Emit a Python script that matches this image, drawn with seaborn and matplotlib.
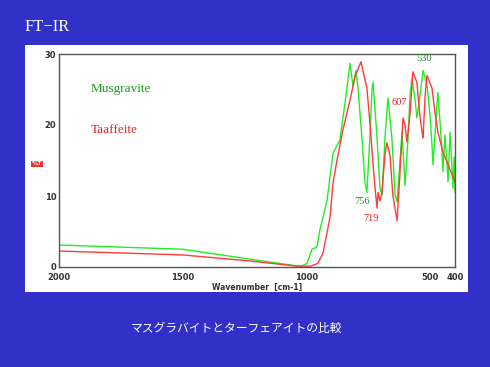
import numpy as np
import pandas as pd
import matplotlib
matplotlib.use("Agg")
import matplotlib.pyplot as plt
from matplotlib.patches import Rectangle
import seaborn as sns

# Musgravite spectrum (wavenumber cm-1, %T)
musg_wn = [2000, 1500, 1228, 1067, 1026, 998, 978, 958, 946, 917, 893, 865, 845,
           824, 812, 800, 792, 776, 764, 756, 744, 735, 731, 715, 703, 695, 683,
           671, 655, 642, 634, 622, 614, 602, 590, 582, 574, 562, 554, 542, 529,
           513, 501, 493, 489, 473, 469, 453, 449, 441, 432, 428, 420, 408, 404, 400]
musg_t = [3.1, 2.5, 1.1, 0.3, 0.05, 0.5, 2.5, 2.8, 5.2, 9.4, 16.0, 17.9, 23.0,
          28.7, 25.4, 27.7, 25.2, 18.2, 12.0, 10.5, 18.2, 25.2, 26.0, 18.2, 11.1, 10.1, 18.2,
          23.8, 18.2, 10.1, 9.2, 15.0, 19.0, 11.5, 18.0, 24.0, 26.5, 23.8, 21.0, 24.0, 27.7,
          25.6, 21.4, 17.2, 14.4, 22.8, 24.6, 16.8, 13.4, 18.6, 14.4, 12.0, 19.0, 11.1, 15.5, 10.5]

# Taaffeite spectrum
taaf_wn = [2000, 1500, 1228, 1047, 986, 954, 933, 905, 893, 877, 853, 824, 804,
           780, 756, 744, 731, 723, 715, 711, 703, 695, 683, 675, 663, 651, 634,
           622, 614, 610, 602, 594, 582, 570, 554, 542, 533, 529, 521, 513, 493,
           481, 469, 449, 432, 420, 400]
taaf_t = [2.25, 1.7, 0.85, 0.15, 0.1, 0.5, 2.0, 7.0, 11.8, 15.0, 19.3, 23.5, 26.8,
          28.9, 25.2, 20.4, 14.4, 11.1, 8.3, 10.5, 9.3, 10.5, 15.8, 17.5, 15.8, 10.1, 6.5,
          13.4, 18.6, 21.0, 20.0, 17.6, 21.5, 27.5, 26.0, 21.4, 19.0, 18.2, 24.0, 27.0, 25.2,
          21.8, 19.0, 16.2, 14.8, 13.7, 12.0]

x_major = [2000, 1500, 1000, 500, 400]
x_minor = [1750, 1250, 750]
y_major = [0, 10, 20, 30]
y_minor = [5, 15, 25]

peak_labels = [("530", 525, 29.4, "#1f8f1f"), ("607", 626, 23.1, "#e82020"),
               ("756", 776, 9.2, "#1f8f1f"), ("719", 740, 6.9, "#e82020")]

df_m = pd.DataFrame({"wn": musg_wn, "T": musg_t})
df_t = pd.DataFrame({"wn": taaf_wn, "T": taaf_t})

sns.set_style("white")
plt.rcParams['font.family'] = ['DejaVu Sans']

bg = "#3131c9"
fig = plt.figure(figsize=(4.9, 3.67), dpi=100, facecolor=bg)
fig.patches.append(Rectangle((25/490, 1-292/367), 443/490, 247/367, transform=fig.transFigure,
                             facecolor="white", edgecolor="none", zorder=-5))

ax = fig.add_axes([59/490, 1-267/367, 396/490, 213/367])
ax.set_zorder(2)
ax.set_facecolor("white")

sns.lineplot(data=df_m, x="wn", y="T", sort=False, estimator=None, color="#22ee22", lw=1.0, ax=ax)
sns.lineplot(data=df_t, x="wn", y="T", sort=False, estimator=None, color="#ff3a3a", lw=1.0, ax=ax)

ax.set_xlim(2000, 400)
ax.set_ylim(0, 30)
ax.set_xticks(x_major)
ax.set_xticks(x_minor, minor=True)
ax.set_yticks(y_major)
ax.set_yticks(y_minor, minor=True)
ax.set_xticklabels([str(v) for v in x_major])
ax.tick_params(axis="both", which="both", direction="in", length=3, width=0.8, color="#444444",
               labelsize=6, labelcolor="#333333", pad=2)
ax.tick_params(axis="x", pad=4)
for lab in ax.get_xticklabels() + ax.get_yticklabels():
    lab.set_fontweight("bold")
for s in ax.spines.values():
    s.set_color("#555555")
    s.set_linewidth(1.0)
ax.set_xlabel("Wavenumber  [cm-1]", fontsize=5.5, fontweight="bold", color="#333333", labelpad=1)
ax.set_ylabel("")

ax.text(1871, 25.1, "Musgravite", family="Liberation Serif", fontsize=9.5, color="#1f9a1f", va="center")
ax.text(1871, 19.3, "Taaffeite", family="Liberation Serif", fontsize=9.5, color="#ee2222", va="center")
for txt, wx, ty, c in peak_labels:
    ax.text(wx, ty, txt, family="Liberation Serif", fontsize=7.5, color=c, ha="center", va="center")

fig.text(37/490, 1-164/367, "%T", fontsize=4.5, fontweight="bold", color="white", ha="center", va="center",
         bbox=dict(boxstyle="square,pad=0.15", facecolor="#e83030", edgecolor="none"))

fig.text(25/490, 1-27/367, "FT\u2212IR", family="Liberation Serif", fontsize=12, color="white",
         ha="left", va="center")
fig.text(237/490, 1-328/367, "マスグラバイトとターフェアイトの比較", family=["Noto Sans CJK JP", "DejaVu Sans"],
         fontsize=8.5, color="white", ha="center", va="center")

fig.savefig("out.png", dpi=100, facecolor=bg)
